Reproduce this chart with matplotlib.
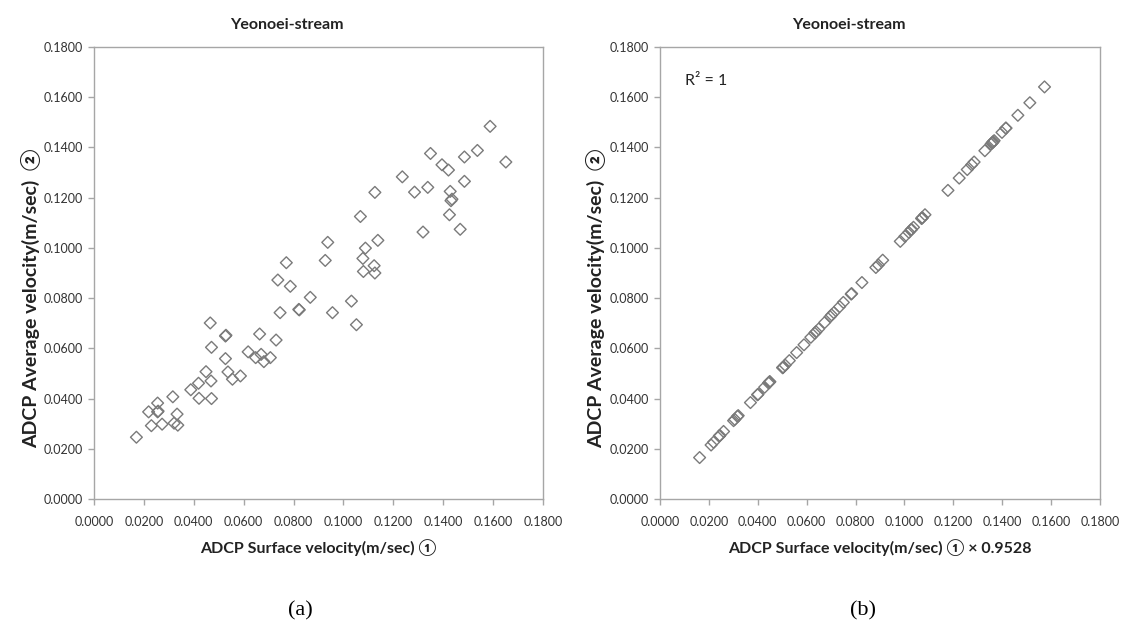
import matplotlib
matplotlib.use("Agg")
import matplotlib.pyplot as plt
from matplotlib.ticker import MultipleLocator, FormatStrFormatter

# ---------------- data ----------------
# (a) ADCP surface velocity (m/s) vs ADCP average velocity (m/s)
surface_a = [0.1588, 0.1651, 0.1537, 0.1485, 0.1485, 0.1349, 0.1395, 0.1421, 0.1236, 0.1285,
             0.1338, 0.1428, 0.1435, 0.1431, 0.1425, 0.1468, 0.1319, 0.1126, 0.1068, 0.1138,
             0.1088, 0.1078, 0.1123, 0.1080, 0.1126, 0.0937, 0.0927, 0.0771, 0.0737, 0.0787,
             0.0867, 0.1032, 0.0821, 0.0823, 0.0746, 0.0956, 0.1052, 0.0466, 0.0527, 0.0529,
             0.0664, 0.0730, 0.0471, 0.0618, 0.0648, 0.0670, 0.0707, 0.0681, 0.0527, 0.0537,
             0.0555, 0.0587, 0.0449, 0.0469, 0.0388, 0.0419, 0.0421, 0.0471, 0.0316, 0.0255,
             0.0219, 0.0255, 0.0257, 0.0333, 0.0230, 0.0273, 0.0321, 0.0336, 0.0170]
average_a = [0.1484, 0.1342, 0.1388, 0.1362, 0.1265, 0.1376, 0.1331, 0.1310, 0.1283, 0.1222,
             0.1241, 0.1225, 0.1194, 0.1188, 0.1132, 0.1074, 0.1063, 0.1221, 0.1125, 0.1030,
             0.0999, 0.0958, 0.0929, 0.0906, 0.0900, 0.1022, 0.0950, 0.0941, 0.0872, 0.0847,
             0.0803, 0.0788, 0.0755, 0.0753, 0.0742, 0.0742, 0.0694, 0.0701, 0.0649, 0.0652,
             0.0657, 0.0633, 0.0604, 0.0586, 0.0563, 0.0576, 0.0563, 0.0547, 0.0559, 0.0506,
             0.0477, 0.0490, 0.0507, 0.0470, 0.0435, 0.0461, 0.0401, 0.0400, 0.0407, 0.0382,
             0.0347, 0.0347, 0.0350, 0.0338, 0.0292, 0.0298, 0.0302, 0.0294, 0.0246]

# (b) ADCP surface velocity x 0.9528 vs ADCP average velocity
scaled_b = [0.1513, 0.1573, 0.1464, 0.1415, 0.1415, 0.1285, 0.1329, 0.1354, 0.1178, 0.1224,
            0.1275, 0.1361, 0.1367, 0.1363, 0.1358, 0.1399, 0.1257, 0.1073, 0.1018, 0.1084,
            0.1037, 0.1027, 0.1070, 0.1029, 0.1073, 0.0893, 0.0883, 0.0735, 0.0702, 0.0750,
            0.0826, 0.0983, 0.0782, 0.0784, 0.0711, 0.0911, 0.1002, 0.0444, 0.0502, 0.0504,
            0.0633, 0.0696, 0.0449, 0.0589, 0.0617, 0.0638, 0.0674, 0.0649, 0.0502, 0.0512,
            0.0529, 0.0559, 0.0428, 0.0447, 0.0370, 0.0399, 0.0401, 0.0449, 0.0301, 0.0243,
            0.0209, 0.0243, 0.0245, 0.0317, 0.0219, 0.0260, 0.0306, 0.0320, 0.0162]
average_b = [0.1578, 0.1641, 0.1528, 0.1477, 0.1477, 0.1342, 0.1387, 0.1413, 0.1229, 0.1278,
             0.1331, 0.1420, 0.1427, 0.1423, 0.1417, 0.1460, 0.1312, 0.1120, 0.1062, 0.1132,
             0.1082, 0.1072, 0.1117, 0.1074, 0.1120, 0.0932, 0.0922, 0.0766, 0.0733, 0.0783,
             0.0862, 0.1026, 0.0816, 0.0818, 0.0742, 0.0951, 0.1046, 0.0462, 0.0523, 0.0525,
             0.0660, 0.0726, 0.0467, 0.0614, 0.0644, 0.0666, 0.0703, 0.0677, 0.0523, 0.0533,
             0.0551, 0.0583, 0.0445, 0.0465, 0.0384, 0.0415, 0.0417, 0.0467, 0.0312, 0.0251,
             0.0215, 0.0251, 0.0253, 0.0329, 0.0226, 0.0269, 0.0317, 0.0332, 0.0165]

title = "Yeonoei-stream"
xlabel_a = "ADCP Surface velocity(m/sec) \u2460"
xlabel_b = "ADCP Surface velocity(m/sec) \u2460 \u00d7 0.9528"
ylabel = "ADCP Average velocity(m/sec)  \u2461"
r2_text = "R\u00b2 = 1"
panel_labels = ["(a)", "(b)"]

# ---------------- style ----------------
plt.rcParams['font.family'] = ['Lato', 'DejaVu Sans']
W, H = 1130, 634
fig = plt.figure(figsize=(W / 100, H / 100), dpi=100)

def px_axes(x0, x1, y0, y1):
    return fig.add_axes([x0 / W, 1 - y1 / H, (x1 - x0) / W, (y1 - y0) / H])

ax_a = px_axes(94, 543, 47, 499)
ax_b = px_axes(660, 1100, 47, 499)

spine_col = "#a6a6a6"
mk_col = "#7a7a7a"

for ax, xs, ys, xl, ylx in [(ax_a, surface_a, average_a, xlabel_a, -0.118),
                            (ax_b, scaled_b, average_b, xlabel_b, -0.122)]:
    ax.scatter(xs, ys, marker='D', s=36, facecolors='none', edgecolors=mk_col,
               linewidths=1.0, zorder=3)
    ax.set_xlim(0, 0.18)
    ax.set_ylim(0, 0.18)
    ax.xaxis.set_major_locator(MultipleLocator(0.02))
    ax.yaxis.set_major_locator(MultipleLocator(0.02))
    ax.xaxis.set_major_formatter(FormatStrFormatter('%.4f'))
    ax.yaxis.set_major_formatter(FormatStrFormatter('%.4f'))
    for sp in ax.spines.values():
        sp.set_color(spine_col)
        sp.set_linewidth(1.0)
    ax.tick_params(axis='both', direction='out', length=4, width=1, color=spine_col,
                   labelsize=9, labelcolor='#333333')
    ax.tick_params(axis='x', pad=8)
    ax.tick_params(axis='y', pad=4)
    ax.set_xlabel(xl, fontsize=11.5, fontweight='bold', color='#222222', labelpad=8)
    ax.set_ylabel(ylabel, fontsize=14, fontweight='bold', color='#222222')
    ax.yaxis.set_label_coords(ylx, 0.445)
    ax.set_title(title, fontsize=11.5, fontweight='bold', color='#222222', pad=13, x=0.43)

ax_b.text(0.057, 0.925, r2_text, transform=ax_b.transAxes, fontsize=11.5,
          color='#222222', va='center', ha='left')

fig.text(300 / W, 1 - 611 / H, panel_labels[0], fontsize=16, family='Liberation Serif',
         ha='center', va='center')
fig.text(863 / W, 1 - 611 / H, panel_labels[1], fontsize=16, family='Liberation Serif',
         ha='center', va='center')

fig.savefig("out.png", dpi=100, facecolor='white')
